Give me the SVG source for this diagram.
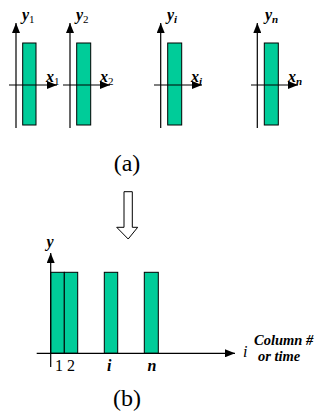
<svg xmlns="http://www.w3.org/2000/svg" width="327" height="412" viewBox="0 0 327 412">
<style>
text{font-family:'Liberation Serif','Times New Roman','DejaVu Serif',serif;fill:#000}
.ax{stroke:#000;stroke-width:1.2;fill:none}
.bar{fill:#00CC99;stroke:#000;stroke-width:1}
.v{font-style:italic;font-weight:bold;font-size:16px}
.s{font-size:11px}
.sr{font-style:normal;font-weight:normal}
.n{font-size:16px}
.cap{font-size:24px}
.lab{font-style:italic;font-weight:bold;font-size:14.5px}
</style>
<defs>
<marker id="ah" markerWidth="10" markerHeight="8" refX="10" refY="4" orient="auto" markerUnits="userSpaceOnUse">
<path d="M0,0 L10,4 L0,8 Z" fill="#000"/>
</marker>
</defs>
<g id="panel1">
<rect class="bar" x="22.7" y="43" width="13.3" height="82"/>
<line class="ax" x1="16" y1="128" x2="16" y2="23" marker-end="url(#ah)"/>
<line class="ax" x1="9" y1="85" x2="57" y2="85" marker-end="url(#ah)"/>
<text class="v" x="22" y="20">y<tspan class="s sr" dy="3">1</tspan></text>
<text class="v" x="46" y="82">x<tspan class="s sr" dy="3">1</tspan></text>
</g>
<g id="panel2">
<rect class="bar" x="76.7" y="43" width="14" height="82"/>
<line class="ax" x1="70" y1="128" x2="70" y2="23" marker-end="url(#ah)"/>
<line class="ax" x1="63" y1="85" x2="110" y2="85" marker-end="url(#ah)"/>
<text class="v" x="76" y="20">y<tspan class="s sr" dy="3">2</tspan></text>
<text class="v" x="100" y="82">x<tspan class="s sr" dy="3">2</tspan></text>
</g>
<g id="panelI">
<rect class="bar" x="167.7" y="43" width="14" height="82"/>
<line class="ax" x1="160.7" y1="128" x2="160.7" y2="23" marker-end="url(#ah)"/>
<line class="ax" x1="154" y1="85" x2="202" y2="85" marker-end="url(#ah)"/>
<text class="v" x="167" y="20">y<tspan class="s" dy="3">i</tspan></text>
<text class="v" x="191" y="82">x<tspan class="s" dy="3">i</tspan></text>
</g>
<g id="panelN">
<rect class="bar" x="264.3" y="43" width="14" height="82"/>
<line class="ax" x1="257.3" y1="128" x2="257.3" y2="23" marker-end="url(#ah)"/>
<line class="ax" x1="251" y1="85" x2="298" y2="85" marker-end="url(#ah)"/>
<text class="v" x="265" y="20">y<tspan class="s" dy="3">n</tspan></text>
<text class="v" x="288" y="82">x<tspan class="s" dy="3">n</tspan></text>
</g>
<text class="cap" x="127" y="171" text-anchor="middle">(a)</text>
<g id="bigArrow">
<path d="M124,191.7 L132.3,191.7 L132.3,227.3 L137.7,227.3 L128.2,239 L116.7,227.3 L124,227.3 Z" fill="#fff" stroke="#000" stroke-width="1"/>
</g>
<g id="chart">
<rect class="bar" x="50.7" y="272.3" width="13.6" height="81"/>
<rect class="bar" x="64.3" y="272.3" width="13.4" height="81"/>
<rect class="bar" x="104.3" y="272.3" width="13.4" height="81"/>
<rect class="bar" x="144.3" y="272.3" width="14" height="81"/>
<line class="ax" x1="50.7" y1="367" x2="50.7" y2="253" marker-end="url(#ah)"/>
<line class="ax" x1="36.7" y1="353.3" x2="235" y2="353.3" marker-end="url(#ah)"/>
<text class="v" x="46.5" y="247">y</text>
<text class="n" x="55" y="370.5">1 2</text>
<text class="v" x="107" y="370.5">i</text>
<text class="v" x="147.5" y="370.5">n</text>
<text class="v" x="243" y="357" style="font-weight:normal">i</text>
<text class="lab" x="254" y="345">Column #</text>
<text class="lab" x="258" y="361.3">or time</text>
</g>
<text class="cap" x="127" y="406" text-anchor="middle">(b)</text>
</svg>
